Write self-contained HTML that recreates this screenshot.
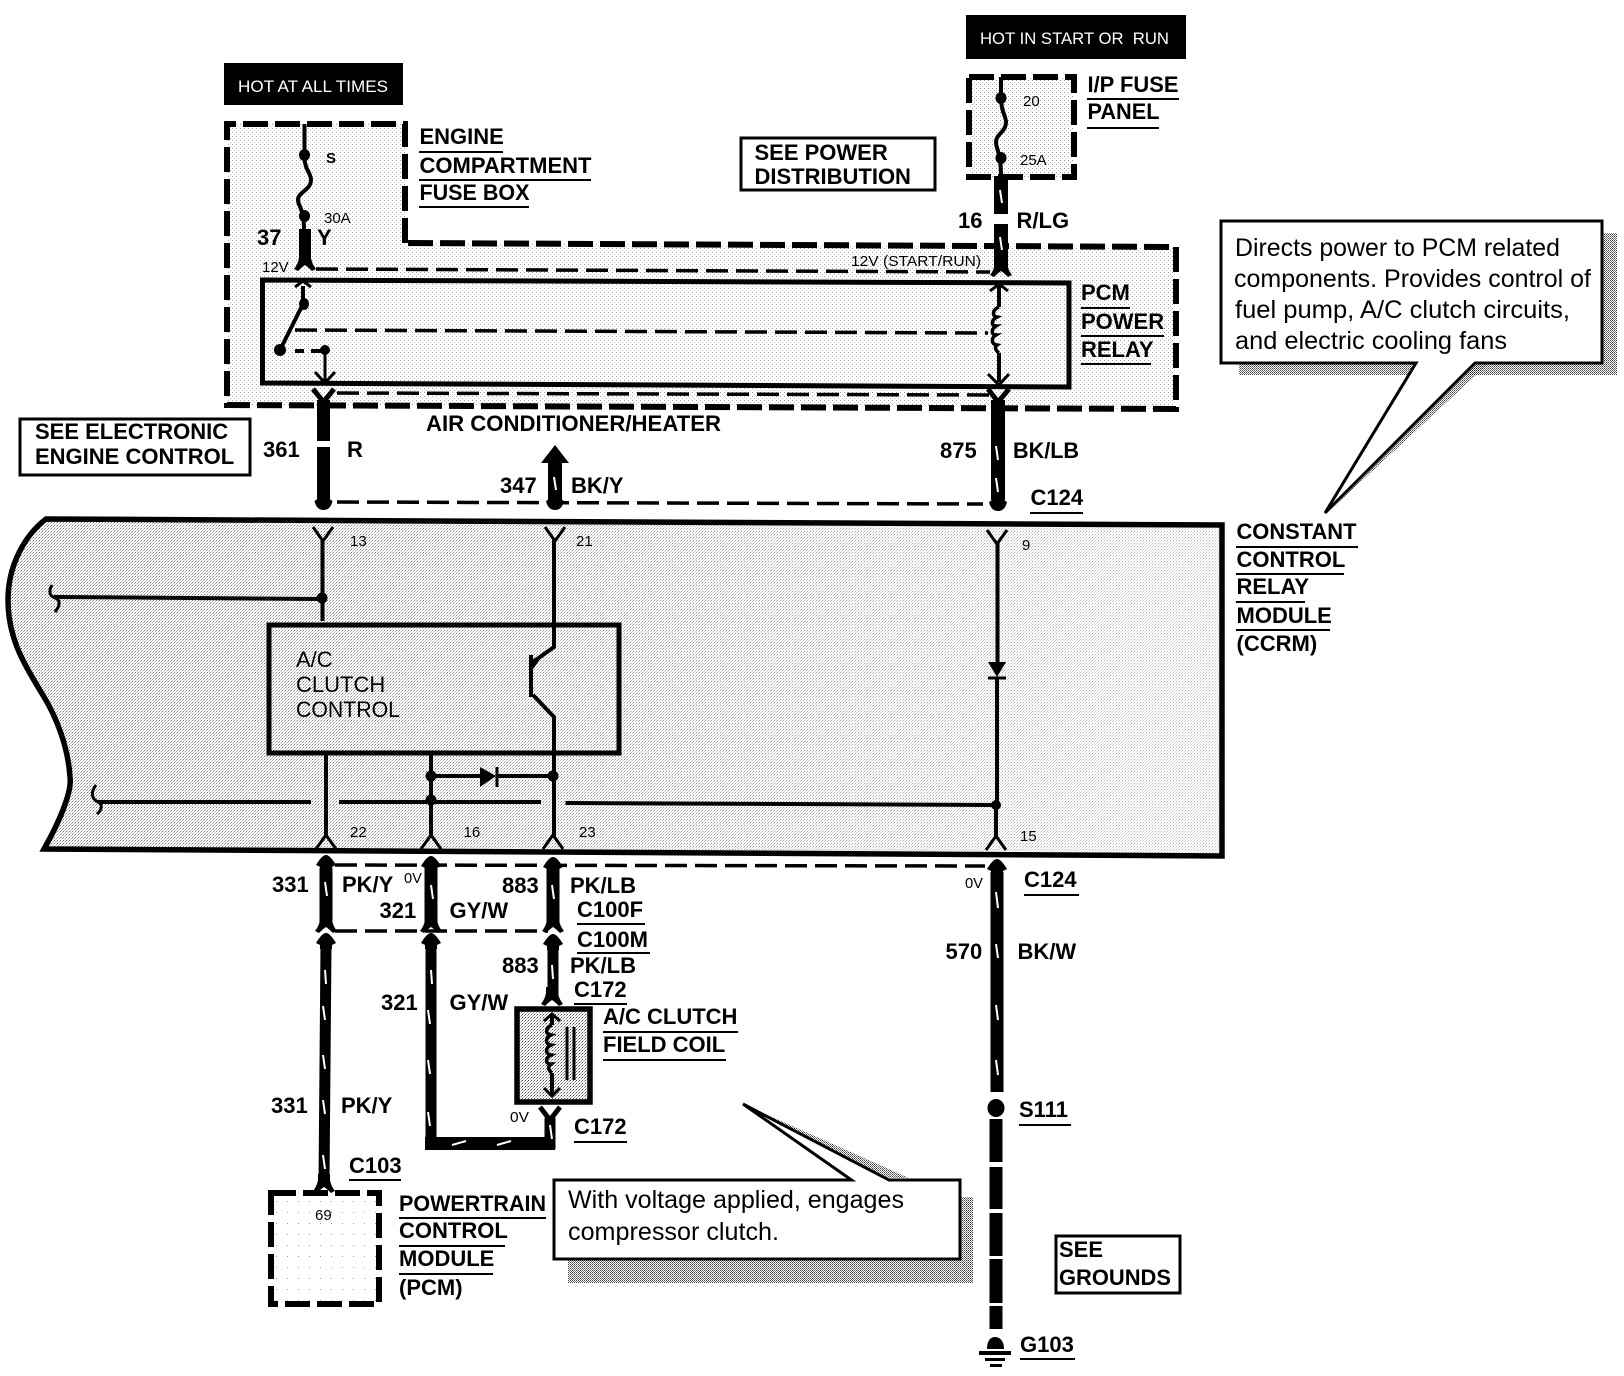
<!DOCTYPE html>
<html><head><meta charset="utf-8"><style>
html,body{margin:0;padding:0;background:#fff;width:1624px;height:1376px;overflow:hidden}
svg{display:block}
text{font-family:"Liberation Sans",sans-serif;fill:#000}
.b{font-size:22px;font-weight:bold}
.r{font-size:15px}
.c{font-size:25px}
.u{stroke:#000;stroke-width:2;fill:none}
.d{fill:none;stroke:#000;stroke-width:6;stroke-dasharray:25 7}
.t{fill:none;stroke:#000;stroke-width:3.5;stroke-dasharray:22 8}
.w{fill:none;stroke:#000;stroke-width:4}
.k{fill:none;stroke:#000;stroke-width:13}
.s{stroke:#fff;stroke-width:2;fill:none}
</style></head><body>
<svg width="1624" height="1376" viewBox="0 0 1624 1376" xmlns="http://www.w3.org/2000/svg">
<defs>
<pattern id="pd" width="3" height="3" patternUnits="userSpaceOnUse"><rect width="3" height="3" fill="#fff"/><rect x="0" y="0" width="1" height="1" fill="#000"/><rect x="2" y="1" width="1" height="1" fill="#000" opacity=".6"/><rect x="1" y="2" width="1" height="1" fill="#000" opacity=".4"/></pattern>
<pattern id="pl" width="4" height="4" patternUnits="userSpaceOnUse"><rect width="4" height="4" fill="#fff"/><rect x="0" y="0" width="1" height="1" fill="#000" opacity=".8"/><rect x="2" y="2" width="1" height="1" fill="#000" opacity=".5"/></pattern>
<pattern id="pv" width="11" height="11" patternUnits="userSpaceOnUse"><rect width="11" height="11" fill="#fff"/><rect x="1" y="2" width="1" height="1" fill="#000" opacity=".4"/></pattern>
<pattern id="ps" width="2" height="2" patternUnits="userSpaceOnUse"><rect width="2" height="2" fill="#fff"/><rect width="1" height="1" fill="#000"/><rect x="1" y="1" width="1" height="1" fill="#000" opacity=".7"/></pattern>
<linearGradient id="fade" x1="0" x2="1" y1="0" y2="0"><stop offset="0" stop-color="#fff" stop-opacity="0"/><stop offset=".4" stop-color="#fff" stop-opacity=".2"/><stop offset="1" stop-color="#fff" stop-opacity=".55"/></linearGradient>
<path id="fork" d="M-6 -14L6 -14L6 -8Q7 -2 11 3L7 5Q3 1 0 -1Q-3 1 -7 5L-11 3Q-7 -2 -6 -8Z"/>
<path id="head" d="M0 0Q4 0 10 10L6 12L6 16L-6 16L-6 12L-10 10Q-4 0 0 0Z"/>
<path id="blob" d="M-6 -10L6 -10L6 -6L9 -4Q7 5 0 5Q-7 5 -9 -4L-6 -6Z"/>
<path id="vc" d="M-10 -7L0 7L10 -7" fill="none" stroke="#000" stroke-width="3"/>
<path id="lc" d="M-10 7L0 -7L10 7" fill="none" stroke="#000" stroke-width="3"/>
</defs>

<!-- stippled regions -->
<path d="M227 124H405V243L1176 247V409L227 405Z" fill="url(#pl)" opacity=".45"/>
<rect x="969" y="77" width="105" height="100" fill="url(#pl)" opacity=".5"/>
<path d="M46 519L1222 525V856L44 849C62 817 72 790 70 777C68 745 55 715 44 697C25 665 8 640 8 600C8 565 25 535 46 519Z" fill="url(#pd)" opacity=".55"/>
<path d="M46 519L1222 525V856L44 849C62 817 72 790 70 777C68 745 55 715 44 697C25 665 8 640 8 600C8 565 25 535 46 519Z" fill="url(#fade)"/>
<rect x="516" y="1008" width="75" height="94" fill="url(#pd)" opacity=".7"/>
<rect x="271" y="1193" width="108" height="111" fill="url(#pv)"/>

<!-- dashed enclosures -->
<path class="d" d="M405 243L405 124H227V405L1176 409V247L405 243"/>
<rect class="d" x="969" y="77" width="105" height="100"/>
<rect class="d" x="271" y="1193" width="108" height="111"/>

<!-- black headers -->
<rect x="224" y="63" width="179" height="42" fill="#000"/>
<text x="238" y="92" font-size="16.5" textLength="150" lengthAdjust="spacingAndGlyphs" style="fill:#fff">HOT AT ALL TIMES</text>
<rect x="966" y="15" width="220" height="44" fill="#000"/>
<text x="980" y="44" font-size="16.5" textLength="189" lengthAdjust="spacingAndGlyphs" style="fill:#fff" xml:space="preserve">HOT IN START OR  RUN</text>

<!-- relay -->
<path d="M262.5 280L1069 283V387L262.5 383Z" fill="none" stroke="#000" stroke-width="5"/>
<path class="t" d="M316 269L990 272"/>
<path class="t" d="M295 330L988 333"/>
<path class="t" d="M337 393L990 395"/>
<path class="t" d="M337 502L983 504"/>

<!-- left fuse and relay contact -->
<path class="w" d="M304.5 124V155C304 170 311 172 311 180C311 190 298 192 298 200C298 206 304 208 304 230"/>
<ellipse cx="304.5" cy="155" rx="5.5" ry="6"/>
<ellipse cx="304.5" cy="216" rx="5.5" ry="6"/>
<rect x="299" y="229" width="12" height="34"/>
<use href="#fork" x="305" y="266"/>
<path class="w" d="M303 286V304L280 350"/>
<path d="M295 287L303 281L311 287" fill="none" stroke="#000" stroke-width="3"/>
<ellipse cx="304" cy="304" rx="5" ry="6"/>
<ellipse cx="280" cy="350" rx="6" ry="6"/>
<path d="M295 351H304M311 351H322" stroke="#000" stroke-width="4" fill="none"/>
<circle cx="325" cy="350" r="5"/>
<path d="M325 350V382" stroke="#000" stroke-width="3" fill="none"/>
<path d="M315 372L325 383L335 372" fill="none" stroke="#000" stroke-width="3"/>
<path d="M313 389L323.5 402L334 389" fill="none" stroke="#000" stroke-width="5"/>

<!-- wire 361 -->
<path class="k" d="M323.5 400V441M323.5 447V500"/>
<use href="#blob" x="323.5" y="505"/>

<!-- arrow 347 -->
<path d="M555 445L569 463H562V500H548V463H541Z"/>
<use href="#blob" x="555" y="505"/>
<path class="s" d="M554 477L556 490"/>

<!-- right fuse -->
<path class="w" d="M1001 77V98C1001 112 1006 116 1006 122C1006 132 996 134 996 142C996 150 1001 150 1001 178"/>
<ellipse cx="1001" cy="98" rx="5.5" ry="6"/>
<ellipse cx="1001" cy="158" rx="5.5" ry="6"/>
<path class="k" style="stroke-width:14" d="M1001 176V214M1001 224V268"/>
<use href="#fork" x="1001" y="272"/>
<path class="s" d="M1000 190L1002 203M1000 237L1002 250"/>
<path d="M990 291L999 284L1008 291" fill="none" stroke="#000" stroke-width="3"/>
<path class="w" d="M999 285V307M999 353V382"/>
<path d="M999 307c-7 3 -7 9 -2 10c-6 3 -6 9 -1 9c-5 3 -5 9 0 9c-5 3 -5 9 1 10c-3 2 -1 6 2 8" fill="none" stroke="#000" stroke-width="3.5"/>
<path d="M988 374L999 385L1009 374" fill="none" stroke="#000" stroke-width="3"/>
<path d="M988 389L998 402L1009 389" fill="none" stroke="#000" stroke-width="5"/>
<path class="k" style="stroke-width:14" d="M998 400V500"/>
<use href="#blob" x="998" y="506"/>
<path class="s" d="M996 446L998 460M996 478L998 492"/>

<!-- CCRM outline -->
<path d="M46 519L1222 525V856L44 849C62 817 72 790 70 777C68 745 55 715 44 697C25 665 8 640 8 600C8 565 25 535 46 519Z" fill="none" stroke="#000" stroke-width="5.5"/>

<!-- CCRM internals -->
<use href="#vc" x="323" y="534"/><use href="#vc" x="555" y="534"/><use href="#vc" x="997" y="537"/>
<use href="#lc" x="326" y="842"/><use href="#lc" x="431" y="842"/><use href="#lc" x="553" y="842"/><use href="#lc" x="996" y="843"/>
<path class="w" d="M322.5 540V621M326 753V836M431 753V836"/>
<path class="w" d="M554 540V647L533 662M533 695L554 717V836"/>
<path d="M531 655V697" fill="none" stroke="#000" stroke-width="4"/>
<path d="M543 655L531 660L531 672Z"/>
<path class="w" d="M997.5 542V662M997 677V805M996 805V836"/>
<path d="M988 662H1006L997 677Z"/><path d="M988 678H1006" stroke="#000" stroke-width="3"/>
<circle cx="996" cy="805" r="5"/>
<circle cx="322" cy="598" r="5.5"/>
<path class="w" d="M54 597L322 599"/>
<path d="M52 585C48 592 50 596 55 598C61 600 60 606 55 612" fill="none" stroke="#000" stroke-width="3"/>
<path class="w" d="M98 802H311M339 802H541M565.5 803L993 805"/>
<path d="M96 785C90 793 92 799 98 802C103 804 102 810 97 814" fill="none" stroke="#000" stroke-width="3"/>
<rect x="269" y="625" width="350" height="128" fill="none" stroke="#000" stroke-width="5"/>
<circle cx="431" cy="776" r="5.5"/><circle cx="553" cy="776" r="5.5"/><circle cx="431" cy="800" r="5.5"/>
<path class="w" d="M431 776H480M497 776H553"/>
<path d="M480 767L496 776L480 787Z"/><path d="M497 767V787" stroke="#000" stroke-width="3"/>

<!-- lower dashes -->
<path class="t" d="M335 865L985 866"/>
<path class="t" d="M335 931H548"/>

<!-- lower wires -->
<use href="#head" x="326" y="855"/><use href="#head" x="431" y="856"/><use href="#head" x="553" y="857"/>
<path class="k" d="M326 868V926M431 868V926M553 868V926"/>
<use href="#fork" x="326" y="928"/><use href="#fork" x="431" y="928"/><use href="#fork" x="553" y="928"/>
<use href="#head" x="326" y="933"/><use href="#head" x="431" y="933"/><use href="#head" x="553" y="934"/>
<path class="k" style="stroke-width:11" d="M326 945L324 1182"/>
<path class="k" style="stroke-width:11" d="M431 945V1143"/>
<path class="k" d="M425 1143.5H555"/>
<path class="k" style="stroke-width:11" d="M550 1118V1149"/>
<path d="M540 1107L550 1120L560 1107" fill="none" stroke="#000" stroke-width="5"/>
<path class="k" style="stroke-width:11" d="M553 945V1000"/>
<use href="#fork" x="552" y="1001"/>
<use href="#fork" x="324" y="1188"/>
<g class="s">
<path class="s" d="M325 882L327 896M431 885L433 899M552 885L554 899M325 970L326 984M431 970L432 984M552 965L553 979"/>
<path class="s" d="M323 1006L325 1020M323 1055L325 1069M323 1100L325 1114M323 1155L325 1169"/>
<path class="s" d="M428 1010L430 1024M428 1060L430 1074M428 1112L430 1126"/>
<path class="s" d="M452 1145L466 1141M497 1145L511 1141M550 1125L552 1139"/>
</g>

<!-- coil box -->
<rect x="517" y="1009" width="73" height="93" fill="none" stroke="#000" stroke-width="5.5"/>
<path d="M544 1021L552 1014L560 1021" fill="none" stroke="#000" stroke-width="3"/>
<path class="w" d="M552 1015V1025M552 1073V1094"/>
<path d="M552 1025c-7 3 -7 9 -1 10c-6 3 -6 9 0 10c-6 3 -6 9 0 10c-6 3 -6 9 0 9c-4 3 -2 7 1 9" fill="none" stroke="#000" stroke-width="3.5"/>
<path d="M544 1088L552 1096L560 1088" fill="none" stroke="#000" stroke-width="3"/>
<path d="M567 1027V1080M574 1027V1080" stroke="#000" stroke-width="3"/>

<!-- bottom-right wire -->
<use href="#head" x="997" y="859"/>
<path class="k" d="M997 872V1092"/>
<path class="s" d="M996 892L998 908M996 944L998 958M996 1005L998 1020M996 1060L998 1075"/>
<ellipse cx="996" cy="1108" rx="8.5" ry="9"/>
<path class="k" d="M996 1119V1162M996 1167V1209M996 1213V1256M996 1259V1303M996 1306V1329"/>
<path d="M987 1349C987 1340 991 1337 995 1337C999 1337 1004 1340 1004 1349Z"/>
<rect x="979" y="1351" width="32" height="4"/><rect x="985" y="1358" width="20" height="3"/><rect x="990" y="1364" width="12" height="3"/>

<!-- reference boxes -->
<rect x="741" y="138" width="194" height="52" fill="#fff" stroke="#000" stroke-width="3"/>
<rect x="20" y="419" width="230" height="56" fill="#fff" stroke="#000" stroke-width="3"/>
<rect x="1056" y="1236" width="124" height="57" fill="#fff" stroke="#000" stroke-width="3"/>

<!-- callouts -->
<rect x="1239" y="233" width="378" height="142" fill="url(#ps)" opacity=".75"/>
<path d="M1475 363L1327 513L1489 363Z" fill="url(#ps)" opacity=".75"/>
<path d="M1221 221H1602V363H1475L1325 513L1416 363H1221Z" fill="#fff" stroke="#000" stroke-width="3"/>
<rect x="568" y="1197" width="405" height="86" fill="url(#ps)" opacity=".75"/>
<path d="M743 1104L909 1178H889Z" fill="url(#ps)" opacity=".75"/>
<path d="M554 1180H851.5L743 1104L889 1180H960V1259H554Z" fill="#fff" stroke="#000" stroke-width="3"/>

<!-- bold labels -->
<g class="b">
<text x="419.5" y="144">ENGINE</text><text x="419.5" y="173" textLength="172" lengthAdjust="spacingAndGlyphs">COMPARTMENT</text><text x="419.5" y="200" textLength="110" lengthAdjust="spacingAndGlyphs">FUSE BOX</text>
<text x="754.5" y="160">SEE POWER</text><text x="754.5" y="184">DISTRIBUTION</text>
<text x="35" y="439">SEE ELECTRONIC</text><text x="35" y="464">ENGINE CONTROL</text>
<text x="426" y="431" textLength="295" lengthAdjust="spacingAndGlyphs">AIR CONDITIONER/HEATER</text>
<text x="257" y="245">37</text><text x="317" y="245">Y</text>
<text x="263" y="457">361</text><text x="347" y="457">R</text>
<text x="500" y="493">347</text><text x="571" y="493">BK/Y</text>
<text x="1087.5" y="92" textLength="91" lengthAdjust="spacingAndGlyphs">I/P FUSE</text><text x="1087.5" y="119" textLength="72" lengthAdjust="spacingAndGlyphs">PANEL</text>
<text x="958" y="228">16</text><text x="1016.5" y="228">R/LG</text>
<text x="1081" y="300">PCM</text><text x="1081" y="329">POWER</text><text x="1081" y="357">RELAY</text>
<text x="940" y="458">875</text><text x="1013" y="458" textLength="66" lengthAdjust="spacingAndGlyphs">BK/LB</text>
<text x="1030.5" y="505">C124</text>
<text x="1236.5" y="539" textLength="120" lengthAdjust="spacingAndGlyphs">CONSTANT</text><text x="1236.5" y="567">CONTROL</text><text x="1236.5" y="594">RELAY</text><text x="1236.5" y="623">MODULE</text><text x="1236.5" y="651">(CCRM)</text>
<text x="272" y="892">331</text><text x="342" y="892">PK/Y</text>
<text x="502" y="893">883</text><text x="570" y="893">PK/LB</text>
<text x="379.5" y="918">321</text><text x="449.5" y="918">GY/W</text>
<text x="577" y="917">C100F</text><text x="577" y="947">C100M</text>
<text x="502" y="973">883</text><text x="570" y="973">PK/LB</text>
<text x="574" y="997">C172</text>
<text x="381" y="1010">321</text><text x="449.5" y="1010">GY/W</text>
<text x="603" y="1024">A/C CLUTCH</text><text x="603" y="1052">FIELD COIL</text>
<text x="574" y="1134">C172</text>
<text x="271" y="1113">331</text><text x="341" y="1113">PK/Y</text>
<text x="349" y="1173">C103</text>
<text x="399" y="1211" textLength="147" lengthAdjust="spacingAndGlyphs">POWERTRAIN</text><text x="399" y="1238">CONTROL</text><text x="399" y="1266">MODULE</text><text x="399" y="1295">(PCM)</text>
<text x="1024" y="887">C124</text>
<text x="945.5" y="959">570</text><text x="1017.5" y="959">BK/W</text>
<text x="1019" y="1117">S111</text><text x="1020" y="1352">G103</text>
<text x="1059" y="1257">SEE</text><text x="1059" y="1285" textLength="112" lengthAdjust="spacingAndGlyphs">GROUNDS</text>
</g>

<!-- underlines -->
<path class="u" d="M419 152H503M419 180H591M419 207H529M1087 99H1179M1087 128H1159M1081 308H1130M1081 336H1164M1081 364H1151M1030 513H1083M1236 547H1358M1236 574H1344M1236 602H1305M1236 630H1330M577 924H645M577 953H650M574 1004H627M603 1032H738M603 1060H726M574 1142H627M349 1180H401M399 1218H546M399 1246H505M399 1274H493M1024 895H1079M1019 1125H1071M1020 1359H1075"/>

<!-- small regular labels -->
<g class="r">
<text x="326" y="163" font-weight="bold">S</text>
<text x="324" y="223">30A</text>
<text x="262" y="272">12V</text>
<text x="1023" y="106">20</text>
<text x="1020" y="165">25A</text>
<text x="851" y="266" textLength="130" lengthAdjust="spacingAndGlyphs">12V (START/RUN)</text>
<text x="350" y="546">13</text><text x="576" y="546">21</text><text x="1022" y="550">9</text>
<text x="350" y="837">22</text><text x="463.5" y="837">16</text><text x="579" y="837">23</text><text x="1020" y="841">15</text>
<text x="404" y="883" textLength="18" lengthAdjust="spacingAndGlyphs">0V</text>
<text x="965" y="888" textLength="18" lengthAdjust="spacingAndGlyphs">0V</text>
<text x="510" y="1122" textLength="19" lengthAdjust="spacingAndGlyphs">0V</text>
<text x="315" y="1220">69</text>
</g>

<g font-size="22">
<text x="296" y="667">A/C</text><text x="296" y="692">CLUTCH</text><text x="296" y="717" textLength="104" lengthAdjust="spacingAndGlyphs">CONTROL</text>
</g>

<!-- callout text -->
<g class="c">
<text x="1235" y="256" textLength="325" lengthAdjust="spacingAndGlyphs">Directs power to PCM related</text>
<text x="1234" y="287" textLength="357" lengthAdjust="spacingAndGlyphs">components. Provides control of</text>
<text x="1235" y="318" textLength="335" lengthAdjust="spacingAndGlyphs">fuel pump, A/C clutch circuits,</text>
<text x="1235" y="349" textLength="272" lengthAdjust="spacingAndGlyphs">and electric cooling fans</text>
<text x="568" y="1208" textLength="336" lengthAdjust="spacingAndGlyphs">With voltage applied, engages</text>
<text x="568" y="1240" textLength="211" lengthAdjust="spacingAndGlyphs">compressor clutch.</text>
</g>
</svg>
</body></html>
